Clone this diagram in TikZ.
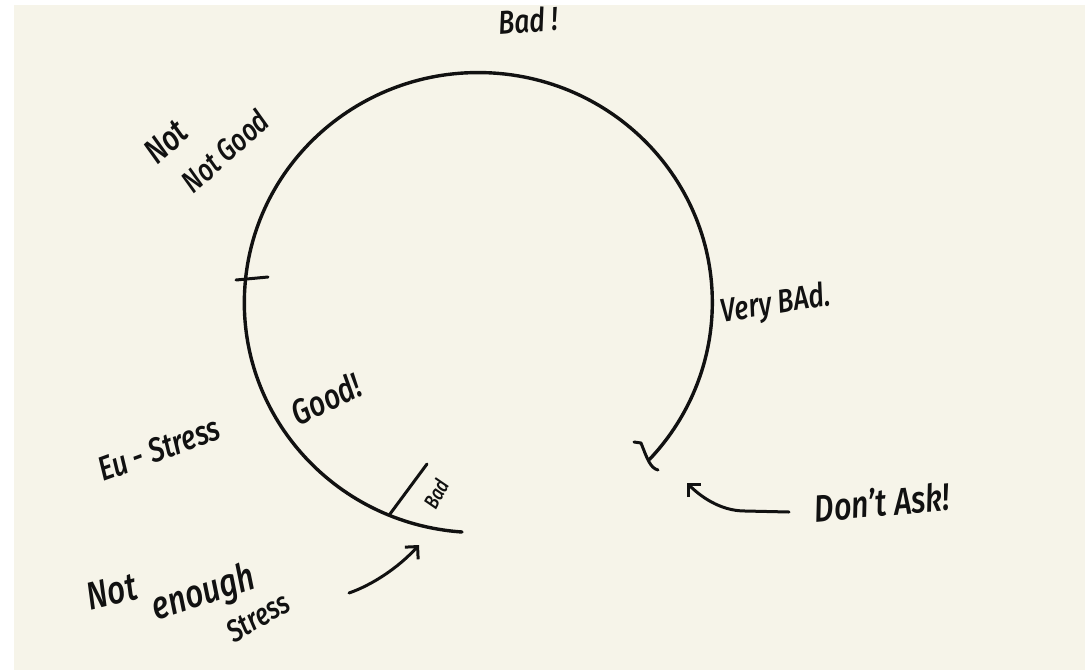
\documentclass[tikz,border=0pt]{standalone}
\usepackage{fontspec}
\setmainfont{Fira Sans}[BoldItalicFont={Fira Sans Medium Italic}]
\usetikzlibrary{arrows.meta}
\definecolor{paper}{HTML}{F6F4E9}
\definecolor{ink}{HTML}{111111}
\tikzset{
  pen/.style={draw=ink, line width=3.4pt, line cap=round, line join=round},
  thinpen/.style={draw=ink, line width=3pt, line cap=round, line join=round},
  hand/.style n args={2}{text=ink, inner sep=0pt, font=\bfseries\itshape\fontsize{#1}{#1}\selectfont, rotate=#2, xscale=0.8},
  barb/.style={-{Straight Barb[length=9pt,width=18pt,line width=3pt]}}
}
\begin{document}
\begin{tikzpicture}[x=1pt,y=-1pt]
\useasboundingbox (0,0) rectangle (1085,670);
\fill[white] (0,0) rectangle (1085,670);
\fill[paper] (14,5) rectangle (1085,670);

% main arc
\coordinate (arcstart) at (462,532);
\draw[pen] (arcstart) arc[x radius=234, y radius=230, start angle=94, end angle=403] coordinate (arcend);

% ticks
\coordinate (t1a) at (236,280);
\coordinate (t1b) at (268,277);
\draw[thinpen] (t1a) -- (t1b);
\coordinate (t2a) at (390,514);
\coordinate (t2b) at (427,464);
\draw[thinpen] (t2a) -- (t2b);
\coordinate (t3a) at (634,442);
\coordinate (t3b) at (641,443);
\coordinate (t3c) at (658,470);
\draw[thinpen] (t3a) -- (t3b) .. controls (647,458) and (650,468) .. (t3c);

% labels
\node[hand={33}{4}] (bad) at (528,20) {Bad !};
\node[hand={35}{42}] (not1) at (166,142) {Not};
\node[hand={31}{42}] (notgood) at (225,151) {Not Good};
\node[hand={33}{9}] (verybad) at (776,305) {Very BAd.};
\node[hand={35}{26}] (good) at (326,399) {Good!};
\node[hand={34}{20}] (eustress) at (159,449) {Eu - Stress};
\node[hand={21}{62}] (smallbad) at (436,494) {Bad};
\node[hand={38}{5}] (dontask) at (882,502) {Don't Ask!};
\node[hand={39}{14}] (notlow) at (112,592) {Not};
\node[hand={39}{18}] (enough) at (204,594) {enough};
\node[hand={31}{30}] (stress) at (258,617) {Stress};

% arrows
\coordinate (a1tail) at (349,593);
\coordinate (a1tip) at (419,545);
\draw[thinpen, barb] (a1tail) .. controls (372,585) and (398,568) .. (a1tip);
\coordinate (a2tail) at (789,512);
\coordinate (a2mid) at (745,511);
\coordinate (a2tip) at (687,483);
\draw[thinpen, barb] (a2tail) -- (a2mid) .. controls (720,511) and (700,496) .. (a2tip);
\end{tikzpicture}
\end{document}
